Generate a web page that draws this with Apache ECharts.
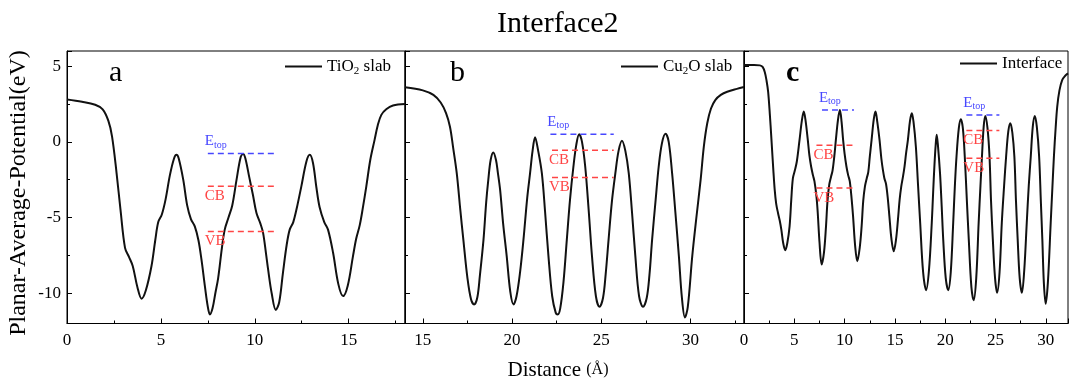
<!DOCTYPE html>
<html><head><meta charset="utf-8">
<script src="https://cdn.jsdelivr.net/npm/echarts@6/dist/echarts.min.js"></script>
<style>html,body{margin:0;padding:0;background:#fff}#c{width:1071px;height:381px}</style>
</head><body><div id="c"></div>
<script>
// ---- Panel a : TiO2 slab ----
const distA = [0,0.8,1.5,1.9,2.2,2.4,2.64,2.85,3.09,3.3,3.5,3.75,3.97,4.2,4.5,4.7,4.86,5.05,5.25,5.48,5.7,5.83,5.95,6.19,6.4,6.6,6.81,7.0,7.16,7.35,7.5,7.61,7.75,7.9,8.05,8.25,8.4,8.6,8.8,9.03,9.25,9.38,9.5,9.7,9.9,10.09,10.3,10.44,10.6,10.71,10.9,11.12,11.3,11.5,11.7,11.86,12.05,12.25,12.48,12.75,12.93,13.1,13.28,13.45,13.7,13.9,14.17,14.45,14.7,14.95,15.23,15.4,15.59,15.75,15.94,16.15,16.38,16.55,16.74,17.0,17.36,18];
const potA  = [2.8,2.65,2.45,2.15,1.4,0.35,-2.06,-4.5,-7.0,-7.6,-8.2,-9.6,-10.36,-9.8,-8.2,-6.5,-5.3,-4.8,-3.8,-2.2,-1.1,-0.86,-1.1,-2.5,-4.2,-5.1,-5.6,-6.5,-7.77,-9.6,-10.9,-11.4,-11.0,-10.0,-9.0,-7.0,-5.8,-5.0,-4.2,-2.5,-1.0,-0.81,-1.1,-2.3,-3.5,-4.7,-5.4,-6.0,-7.4,-8.43,-10.0,-11.1,-10.6,-8.65,-6.8,-5.8,-5.3,-4.3,-2.94,-1.3,-0.86,-1.4,-3.0,-4.3,-5.3,-5.8,-7.33,-9.4,-10.19,-9.5,-7.55,-6.4,-5.5,-4.4,-2.94,-1.2,0.13,1.1,1.78,2.15,2.4,2.5];
const levelNamesA = ['Etop','CB','VB'];
const levelValuesA = [-0.77,-2.94,-5.93];
const levelStartA = [7.5,7.5,7.5];
const levelEndA = [11.15,11.15,11.15];

// ---- Panel b : Cu2O slab ----
const distB = [14,15,15.59,16.0,16.3,16.52,16.7,16.9,17.1,17.27,17.5,17.7,17.87,18.05,18.2,18.4,18.55,18.67,18.8,18.95,19.1,19.2,19.33,19.5,19.7,19.9,20.08,20.25,20.45,20.64,20.85,21.01,21.15,21.29,21.45,21.67,21.85,22.04,22.25,22.45,22.56,22.7,22.88,23.07,23.25,23.44,23.6,23.76,23.92,24.1,24.3,24.48,24.7,24.9,25.1,25.25,25.41,25.6,25.79,25.97,26.16,26.35,26.54,26.72,26.91,27.12,27.34,27.55,27.7,27.85,28.05,28.22,28.4,28.6,28.78,28.97,29.15,29.35,29.52,29.69,29.85,30.1,30.35,30.57,30.75,30.94,31.15,31.4,31.7,32.06,32.6,33];
const potB  = [3.6,3.4,3.1,2.6,1.9,1.0,-0.4,-2.07,-4.5,-6.46,-9.0,-10.4,-10.74,-10.3,-8.8,-6.46,-4.0,-2.5,-1.2,-0.7,-1.2,-2.0,-3.16,-5.4,-7.55,-9.9,-10.74,-10.2,-8.6,-6.46,-3.7,-2.07,-0.6,0.31,-0.5,-2.07,-4.6,-7.55,-10.2,-11.3,-11.4,-11.0,-9.3,-6.46,-3.8,-1.63,-0.2,0.5,0,-1.63,-4.6,-7.55,-10.2,-10.9,-10.3,-8.7,-6.46,-3.9,-2.07,-0.6,0.07,-0.6,-2.07,-4.6,-7.55,-10.2,-10.9,-10.3,-8.8,-6.46,-3.8,-1.63,-0.1,0.53,0,-2.07,-4.6,-7.55,-10.3,-11.6,-10.9,-7.55,-4.8,-2.5,-0.3,1.23,2.2,2.77,3.1,3.31,3.5,3.62];
const levelNamesB = ['Etop','CB','VB'];
const levelValuesB = [0.5,-0.55,-2.35];
const levelStartB = [22.15,22.24,22.24];
const levelEndB = [25.7,25.7,25.7];

// ---- Panel c : Interface ----
const distC = [0,1.0,1.58,1.85,2.07,2.25,2.4,2.57,2.73,2.9,3.05,3.2,3.38,3.55,3.71,3.9,4.1,4.3,4.53,4.7,4.86,5.05,5.25,5.52,5.75,5.94,6.1,6.34,6.5,6.67,6.85,7.0,7.2,7.33,7.5,7.72,7.95,8.15,8.3,8.48,8.65,8.8,9.0,9.13,9.35,9.53,9.7,9.85,10.0,10.18,10.35,10.51,10.7,10.84,11.05,11.26,11.5,11.69,11.85,12.02,12.2,12.35,12.5,12.68,12.9,13.07,13.25,13.47,13.65,13.8,13.95,14.12,14.3,14.45,14.65,14.88,15.1,15.3,15.47,15.63,15.8,15.96,16.1,16.29,16.5,16.68,16.85,17.08,17.3,17.51,17.8,18.1,18.38,18.66,18.8,18.92,19.05,19.15,19.27,19.48,19.65,19.8,20.05,20.3,20.55,20.79,20.95,21.12,21.35,21.55,21.75,21.94,22.15,22.34,22.6,22.83,23.08,23.32,23.5,23.65,23.82,23.98,24.2,24.4,24.55,24.73,24.95,25.16,25.4,25.62,25.85,26.05,26.27,26.47,26.67,26.87,27.03,27.2,27.4,27.62,27.85,28.1,28.3,28.5,28.7,28.9,29.1,29.33,29.5,29.65,29.8,29.98,30.2,30.48,30.65,30.8,30.97,31.13,31.35,31.62,31.9,32.2];
const potC  = [5.07,5.07,5.05,4.95,4.6,4.0,3.3,1.8,0.13,-1.7,-3.16,-4.1,-4.7,-5.2,-5.8,-6.7,-7.16,-6.7,-5.58,-3.8,-2.4,-1.9,-1.3,0.13,1.4,2.0,1.5,0.13,-0.9,-1.63,-2.2,-2.6,-3.6,-4.7,-6.6,-8.1,-7.3,-5.58,-3.9,-2.8,-2.3,-1.9,-0.8,0.13,1.5,2.1,1.3,0.13,-0.8,-1.63,-2.2,-2.6,-3.8,-4.92,-6.9,-7.88,-7.0,-5.58,-3.9,-2.94,-2.4,-2.0,-1.0,0.13,1.5,2.0,1.3,0.13,-1.1,-1.84,-2.4,-2.8,-3.8,-4.92,-6.4,-7.23,-6.5,-5.14,-3.8,-2.94,-2.3,-1.6,-0.8,0.13,1.4,1.89,1.3,-0.31,-2.9,-5.36,-8.6,-9.8,-8.5,-5.36,-3.3,-1.63,-0.2,0.46,-0.2,-2.07,-4.3,-6.46,-9.0,-9.8,-8.6,-5.36,-3.0,-0.97,0.9,1.49,0.9,-0.97,-3.9,-6.46,-9.6,-10.46,-9.0,-5.36,-2.9,-0.97,1.0,1.71,0.9,-0.97,-3.9,-6.46,-9.0,-9.97,-8.6,-5.36,-2.9,-0.97,0.7,1.23,0.6,-0.97,-3.9,-6.46,-9.0,-9.97,-8.5,-5.36,-2.9,-0.97,1.0,1.71,1.0,-0.97,-3.9,-6.46,-9.3,-10.7,-9.3,-5.36,-3.0,-0.97,0.9,2.33,3.4,4.08,4.35,4.52];
const levelNamesC = ['Etop','CB','VB','Etop','CB','VB'];
const levelValuesC = [2.1,-0.22,-3.05,1.78,0.75,-1.08];
const levelStartC = [7.75,7.2,7.2,22.1,22.1,22.1];
const levelEndC = [10.93,10.93,10.93,25.38,25.38,25.38];

// ---- Axes / text ----
const xRangeA = [0,18], xRangeB = [14,33], xRangeC = [0,32.2];
const yRange = [-12,6];
const panelNames = ['TiO2 slab','Cu2O slab','Interface'];
const panelLetters = ['a','b','c'];

const FONT = "'Liberation Serif','Times New Roman',serif";
const zip = (xs, ys) => xs.map((x,i)=>[x, ys[i]]);
const multOf5 = v => (Math.abs(v/5 - Math.round(v/5)) < 1e-6) ? String(Math.round(v)) : '';

const grids = [
  {left:67, top:51, width:338, height:272.5},
  {left:405, top:51, width:339, height:272.5},
  {left:744, top:51, width:330, height:272.5}
].map(g => Object.assign(g, {show:true, borderColor:'#000', borderWidth:1, containLabel:false}));

function xAx(i, range, useInterval){
  const ax = {gridIndex:i, type:'value', min:range[0], max:range[1],
    axisLine:{show:true, onZero:false, lineStyle:{color:'#000', width:1}},
    axisTick:{show:true, inside:true, length:5, lineStyle:{color:'#000'}},
    minorTick:{show:true, splitNumber:2, length:3, lineStyle:{color:'#000'}},
    splitLine:{show:false},
    axisLabel:{show:true, color:'#000', fontFamily:FONT, fontSize:17, margin:9, formatter:multOf5}};
  if (useInterval) ax.interval = 5; else ax.splitNumber = 4;
  return ax;
}
function yAx(i, showLabel){
  return {gridIndex:i, type:'value', min:yRange[0], max:yRange[1], splitNumber:4,
    axisLine:{show:true, onZero:false, lineStyle:{color:'#000', width:1}},
    axisTick:{show:true, inside:true, length:5, lineStyle:{color:'#000'}},
    minorTick:{show:true, splitNumber:2, length:3, lineStyle:{color:'#000'}},
    splitLine:{show:false},
    axisLabel:{show:showLabel, color:'#000', fontFamily:FONT, fontSize:17, margin:6, formatter:multOf5}};
}

function levelSeries(idx, names, vals, starts, ends){
  return names.map((nm, k) => {
    const isTop = nm === 'Etop';
    const col = isTop ? '#4747ff' : '#ff4545';
    return {type:'line', xAxisIndex:idx, yAxisIndex:idx, silent:true,
      symbol:'circle', symbolSize:0.1, showSymbol:true, animation:false,
      lineStyle:{color:col, width:1.5, type:[6,4]}, itemStyle:{color:col},
      data:[
        {value:[starts[k], vals[k]], label:{show:true, position:[-3, isTop ? -12 : 10],
          align:'left', verticalAlign:'middle', color:col, fontFamily:FONT, fontSize:15,
          formatter: isTop ? 'E{sub|top}' : nm,
          rich:{sub:{fontSize:10, fontFamily:FONT, color:col, padding:[7,0,0,0]}}}},
        [ends[k], vals[k]]
      ]};
  });
}
function curve(idx, name, xs, ys){
  return {type:'line', name:name, xAxisIndex:idx, yAxisIndex:idx, data:zip(xs, ys),
    symbol:'none', smooth:0.35, animation:false, lineStyle:{color:'#111', width:2}, itemStyle:{color:'#111'}};
}

const legendPos = [{left:285, top:58}, {left:621, top:58}, {left:960, top:55}];
const legendFmt = {'TiO2 slab':'{n|TiO}{sub|2}{n| slab}', 'Cu2O slab':'{n|Cu}{sub|2}{n|O slab}', 'Interface':'{n|Interface}'};
const legends = panelNames.map((n,i)=>({data:[{name:n, icon:'rect'}], left:legendPos[i].left, top:legendPos[i].top,
  itemWidth:37, itemHeight:2, padding:0, selectedMode:false,
  itemStyle:{color:'#111', borderWidth:0},
  formatter: nm => legendFmt[nm],
  textStyle:{color:'#000', fontFamily:FONT, fontSize:17,
    rich:{n:{fontSize:17, fontFamily:FONT, color:'#000', lineHeight:20, verticalAlign:'middle'},
          sub:{fontSize:11, fontFamily:FONT, color:'#000', lineHeight:11, verticalAlign:'bottom'}}}}));

const letterX = [117, 458, 794];
const graphics = panelLetters.map((t,i)=>({type:'text', left:letterX[i]-8, top:58,
  style:{text:t, fontFamily:FONT, fontSize:30, fontWeight: i===2 ? 'bold' : 'normal', fill:'#000'}}));
graphics.push({type:'text', x:19, y:193, rotation:Math.PI/2,
  style:{text:'Planar-Average-Potential(eV)', fontFamily:FONT, fontSize:24, fill:'#000', align:'center', verticalAlign:'middle'}});
graphics.push({type:'text', x:558, y:370,
  style:{text:'Distance {s|(Å)}', fontFamily:FONT, fontSize:21, fill:'#000', align:'center', verticalAlign:'middle',
    rich:{s:{fontSize:16, fontFamily:FONT, fill:'#000'}}}});

const chart = echarts.init(document.getElementById('c'), null, {renderer:'canvas'});
chart.setOption({
  backgroundColor:'#fff',
  animation:false,
  title:{text:'Interface2', left:497, top:9, padding:0,
    textStyle:{fontFamily:FONT, fontSize:30, fontWeight:'normal', color:'#000'}},
  grid:grids,
  xAxis:[xAx(0, xRangeA, true), xAx(1, xRangeB, false), xAx(2, xRangeC, true)],
  yAxis:[yAx(0, true), yAx(1, false), yAx(2, false)],
  legend:legends,
  graphic:graphics,
  series:[
    curve(0, panelNames[0], distA, potA),
    curve(1, panelNames[1], distB, potB),
    curve(2, panelNames[2], distC, potC),
    ...levelSeries(0, levelNamesA, levelValuesA, levelStartA, levelEndA),
    ...levelSeries(1, levelNamesB, levelValuesB, levelStartB, levelEndB),
    ...levelSeries(2, levelNamesC, levelValuesC, levelStartC, levelEndC)
  ]
});
</script></body></html>
